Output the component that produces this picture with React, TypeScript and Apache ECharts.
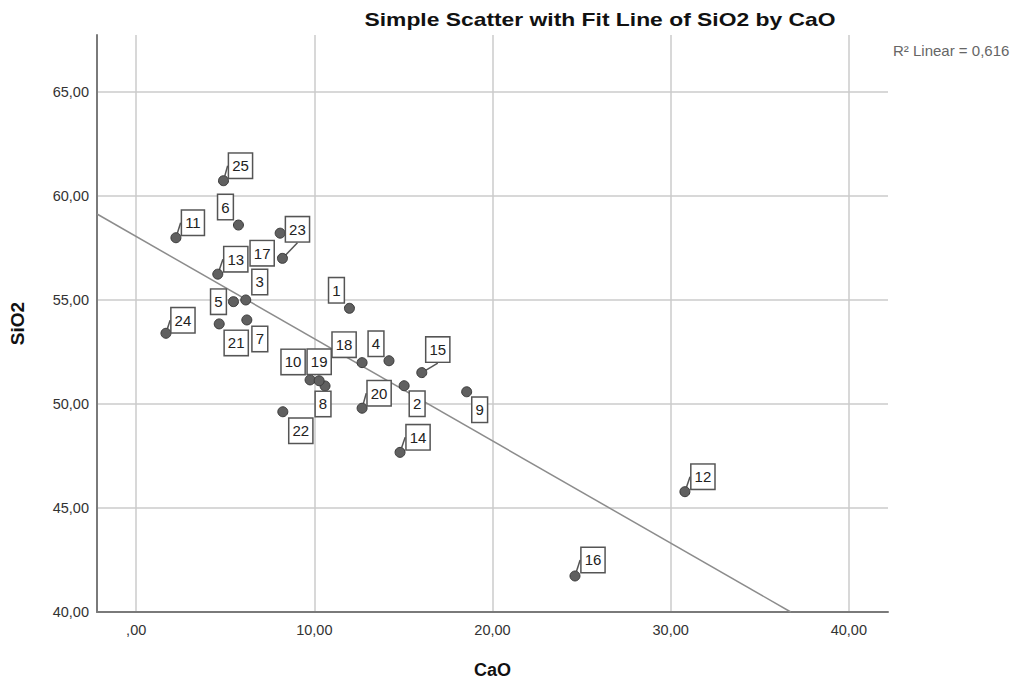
import React, { useEffect, useRef } from "react";
import * as echarts from "echarts";

// ---- data ----
const caseIds = ["1","2","3","4","5","6","7","8","9","10","11","12","13","14","15","16","17","18","19","20","21","22","23","24","25"];
const cao = [11.97, 15.04, 6.15, 14.19, 5.46, 5.74, 6.21, 10.60, 18.55, 9.76, 2.23, 30.80, 4.58, 14.81, 16.03, 24.63, 8.08, 12.68, 10.27, 12.68, 4.66, 8.23, 8.21, 1.67, 4.90];
const sio2 = [54.59, 50.87, 54.99, 52.07, 54.91, 58.59, 54.03, 50.86, 50.58, 51.15, 57.98, 45.78, 56.23, 47.67, 51.50, 41.73, 58.20, 51.98, 51.11, 49.79, 53.84, 49.62, 56.99, 53.39, 60.72];

// linear fit
const fitIntercept = 58.04;
const fitSlope = -0.491;
const rSquaredText = "R\u00B2 Linear = 0,616";

// axis ranges / ticks
const xMin = -2.2;
const xMax = 42.2;
const xStep = 10;
const yMin = 40;
const yMax = 67.72;
const yStep = 5;

// label placement (offset of each case label box from its point)
const labelDx = [-13, 13, 14, -13, -15, -13, 13, -2, 13, -17, 17, 18, 18, 18, 16, 18, -18, -18, 0, 17, 17, 18, 15, 17, 17];
const labelDy = [-18, 18, -18, -17, 0, -18, 19, 18, 18, -18, -15, -15, -15, -15, -23, -16, 20, -18, -19, -15, 19, 19, -29, -13, -15];
const labelConnector = [false, false, false, false, false, false, false, false, false, false, true, true, true, true, true, true, false, false, false, true, false, false, true, true, true];

const FONT = "'Liberation Sans', Arial, Helvetica, sans-serif";

const fmt = (v: number) => {
  const s = v.toFixed(2).replace(".", ",");
  return s.startsWith("0,") ? s.slice(1) : s;
};

const isMultiple = (v: number, step: number) => Math.abs(v / step - Math.round(v / step)) < 1e-6;

export default function App() {
  const ref = useRef<HTMLDivElement>(null);

  useEffect(() => {
    if (!ref.current) return;
    const chart = echarts.init(ref.current, undefined, { renderer: "svg" });

    const fitX0 = xMin;
    const fitX1 = (yMin - fitIntercept) / fitSlope;
    const fitData = [
      [fitX0, fitIntercept + fitSlope * fitX0],
      [fitX1, fitIntercept + fitSlope * fitX1],
    ];

    const scatterData = cao.map((x, i) => ({
      value: [x, sio2[i]],
      labelLine: { show: labelConnector[i] },
    }));

    chart.setOption({
      animation: false,
      backgroundColor: "#ffffff",
      textStyle: { fontFamily: FONT },
      grid: {
        left: 97,
        right: 131,
        top: 35,
        bottom: 74,
        containLabel: false,
        outerBoundsMode: "none",
      },
      graphic: [
        {
          type: "text",
          x: 600,
          y: 19,
          scaleX: 1.27,
          style: {
            text: "Simple Scatter with Fit Line of SiO2 by CaO",
            fontFamily: FONT,
            fontSize: 18,
            fontWeight: "bold",
            fill: "#111",
            textAlign: "center",
            textVerticalAlign: "middle",
          },
        },
        {
          type: "text",
          x: 893,
          y: 50,
          style: {
            text: rSquaredText,
            fontFamily: FONT,
            fontSize: 15,
            fill: "#666",
            textAlign: "left",
            textVerticalAlign: "middle",
          },
        },
      ],
      xAxis: {
        type: "value",
        min: xMin,
        max: xMax,
        minInterval: xStep,
        maxInterval: xStep,
        name: "CaO",
        nameLocation: "middle",
        nameGap: 49,
        nameTextStyle: { fontFamily: FONT, fontSize: 18, fontWeight: "bold", color: "#111" },
        axisLine: { show: true, onZero: false, lineStyle: { color: "#7a7a7a", width: 2 } },
        axisTick: { show: false },
        axisLabel: {
          margin: 10,
          fontFamily: FONT,
          fontSize: 14.5,
          color: "#333",
          showMinLabel: false,
          showMaxLabel: false,
          formatter: (v: number) => (isMultiple(v, xStep) ? fmt(v) : ""),
        },
        splitLine: {
          show: true,
          showMinLine: false,
          showMaxLine: false,
          lineStyle: { color: "#cbcbcb", width: 1.5 },
        },
      },
      yAxis: {
        type: "value",
        min: yMin,
        max: yMax,
        minInterval: yStep,
        maxInterval: yStep,
        name: "SiO2",
        nameLocation: "middle",
        nameGap: 70,
        nameTextStyle: { fontFamily: FONT, fontSize: 19, fontWeight: "bold", color: "#111" },
        axisLine: { show: true, onZero: false, lineStyle: { color: "#7a7a7a", width: 2 } },
        axisTick: { show: false },
        axisLabel: {
          margin: 8,
          fontFamily: FONT,
          fontSize: 14.5,
          color: "#333",
          showMaxLabel: false,
          formatter: (v: number) => (isMultiple(v, yStep) ? fmt(v) : ""),
        },
        splitLine: {
          show: true,
          showMinLine: false,
          showMaxLine: false,
          lineStyle: { color: "#cbcbcb", width: 1.5 },
        },
      },
      series: [
        {
          type: "line",
          data: fitData,
          symbol: "none",
          silent: true,
          z: 1,
          lineStyle: { color: "#8c8c8c", width: 1.5 },
        },
        {
          type: "scatter",
          data: scatterData,
          symbol: "circle",
          symbolSize: 10,
          z: 2,
          itemStyle: { color: "#606060", borderColor: "#3a3a3a", borderWidth: 1, opacity: 1 },
          label: {
            show: true,
            position: "inside",
            formatter: (p: any) => caseIds[p.dataIndex],
            fontFamily: FONT,
            fontSize: 15,
            color: "#222",
            backgroundColor: "#ffffff",
            borderColor: "#555",
            borderWidth: 1.5,
            padding: [5, 3, 4, 3],
          },
          labelLine: { show: true, lineStyle: { color: "#555", width: 1.5 } },
          labelLayout: (params: any) => ({
            dx: labelDx[params.dataIndex],
            dy: labelDy[params.dataIndex],
          }),
        },
      ],
    });

    return () => chart.dispose();
  }, []);

  return (
    <div
      ref={ref}
      style={{ position: "absolute", left: 0, top: 0, width: 1019, height: 686, background: "#fff" }}
    />
  );
}
